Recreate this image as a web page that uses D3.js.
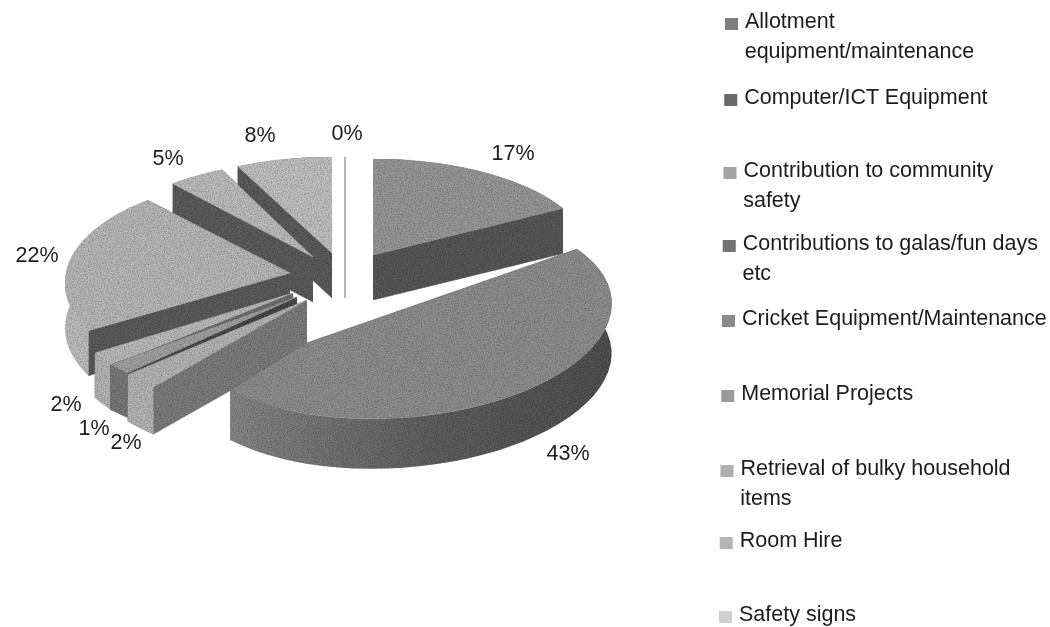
<!DOCTYPE html>
<html>
<head>
<meta charset="utf-8">
<script src="https://cdn.jsdelivr.net/npm/d3@7"></script>
<style>
  html, body { margin: 0; background: #fff; }
  text { font-family: "Liberation Sans", Arial, sans-serif; fill: #1c1c1c; }
</style>
</head>
<body>
<div class="mainDiv"></div>
<script>
const categories = ["Allotment equipment/maintenance", "Computer/ICT Equipment", "Contribution to community safety",
  "Contributions to galas/fun days etc", "Cricket Equipment/Maintenance", "Memorial Projects",
  "Retrieval of bulky household items", "Room Hire", "Safety signs"];
const values = [17, 43, 2, 1, 2, 22, 5, 8, 0];

// legend text broken the way the reference breaks it
const legendLines = [["Allotment", "equipment/maintenance"], ["Computer/ICT Equipment"], ["Contribution to community", "safety"],
  ["Contributions to galas/fun days", "etc"], ["Cricket Equipment/Maintenance"], ["Memorial Projects"],
  ["Retrieval of bulky household", "items"], ["Room Hire"], ["Safety signs"]];
const legendY = [28, 104, 177, 250, 325, 400, 475, 547, 621];
const legendColor = ["#7d7d7d", "#6b6b6b", "#a3a3a3", "#737373", "#8a8a8a", "#9a9a9a", "#b0b0b0", "#b4b4b4", "#cfcfcf"];

// the pie is a skewed perspective render, so each slice has its own ellipse and apex
// e = ellipse centre, a = apex, r = radii, t = ellipse angles the slice's pie angles map to
const sliceLayout = [
  { e: [373, 255], a: [373, 255], r: [217, 96],  t: [0, 61],      h: 45, tilt: 0, top: "#989898", side: "#585858", outer: "#585858" },
  { e: [396, 315], a: [307, 343], r: [216, 103], t: [59, 232],    h: 50, tilt: 4, top: "#8e8e8e", side: "#5c5c5c", outer: "url(#wall43)" },
  { e: [294, 308], a: [307, 300], r: [215, 105], t: [220.9, 230.6], h: 47, tilt: 0, top: "#b4b4b4", side: "#7c7c7c", outer: "#b4b4b4" },
  { e: [268.5, 293.5], a: [297, 297], r: [215, 105], t: [220.9, 227.2], h: 45, tilt: 0, top: "#a0a0a0", side: "#484848", outer: "#787878" },
  { e: [283, 302], a: [293, 293], r: [215, 105], t: [233, 241],   h: 45, tilt: 0, top: "#bababa", side: "#6e6e6e", outer: "#b4b4b4" },
  { e: [280, 283], a: [290, 273], r: [215, 105], t: [243, 322],   h: 45, tilt: 0, top: "#b8b8b8", side: "#5c5c5c", outer: "#bcbcbc" },
  { e: [313, 257], a: [313, 257], r: [217, 96],  t: [319.8, 335.2], h: 45, tilt: 0, top: "#bcbcbc", side: "#5c5c5c", outer: "#5c5c5c" },
  { e: [332, 253], a: [332, 253], r: [217, 96],  t: [334.3, 360], h: 45, tilt: 0, top: "#c0c0c0", side: "#5c5c5c", outer: "#5c5c5c" },
  { e: [345, 253], a: [345, 253], r: [217, 96],  t: [360, 360],   h: 45, tilt: 0, top: "#b5b5b5", side: "#b5b5b5", outer: "#b5b5b5" }
];
// back to front
const drawOrder = [0, 8, 7, 6, 5, 4, 3, 2, 1];

const labelPos = [[513, 153], [568, 453], [126, 442], [94, 428], [66, 404], [37, 255], [168, 158], [260, 135], [347, 133]];

const svg = d3.select(".mainDiv").append("svg")
  .attr("width", 1050).attr("height", 627)
  .style("display", "block");

const defs = svg.append("defs");
const grain = defs.append("filter").attr("id", "grain")
  .attr("x", 0).attr("y", 0).attr("width", 1).attr("height", 1);
grain.append("feTurbulence").attr("type", "fractalNoise").attr("baseFrequency", 0.7).attr("numOctaves", 2).attr("seed", 4).attr("result", "n");
grain.append("feColorMatrix").attr("in", "n").attr("type", "matrix")
  .attr("values", "0 0 0 0 0  0 0 0 0 0  0 0 0 0 0  0.9 0 0 0 -0.32").attr("result", "dots");
grain.append("feComposite").attr("in", "dots").attr("in2", "SourceGraphic").attr("operator", "in").attr("result", "clipped");
const merge = grain.append("feMerge");
merge.append("feMergeNode").attr("in", "SourceGraphic");
merge.append("feMergeNode").attr("in", "clipped");

defs.append("filter").attr("id", "soft").append("feGaussianBlur").attr("stdDeviation", 0.4);

const wall = defs.append("linearGradient").attr("id", "wall43");
wall.append("stop").attr("offset", "0%").attr("stop-color", "#868686");
wall.append("stop").attr("offset", "55%").attr("stop-color", "#5e5e5e");
wall.append("stop").attr("offset", "100%").attr("stop-color", "#505050");

const pie = d3.pie().sort(null).value(d => d);
const arcs = pie(values);
const line = d3.line();
const toRad = Math.PI / 180;

function ellipsePoint(l, tau) {
  const px = l.r[0] * Math.sin(tau * toRad);
  const py = -l.r[1] * Math.cos(tau * toRad);
  const c = Math.cos(l.tilt * toRad), s = Math.sin(l.tilt * toRad);
  return [l.e[0] + px * c + py * s, l.e[1] - px * s + py * c];
}

const pieView = svg.append("g").attr("class", "pie");

drawOrder.forEach(i => {
  const d = arcs[i], l = sliceLayout[i];
  const tau = d3.scaleLinear().domain([d.startAngle, d.endAngle]).range(l.t);
  const angles = d3.range(41).map(k => d.startAngle + (d.endAngle - d.startAngle) * k / 40);
  const rim = angles.map(a => ellipsePoint(l, tau(a)));
  const drop = p => [p[0], p[1] + l.h];
  const first = rim[0], last = rim[rim.length - 1];
  const g = pieView.append("g").attr("id", "slice" + i).attr("filter", values[i] > 0 ? "url(#grain)" : null);

  // cut walls first, then the outer wall, then the top face over them
  [first, last].forEach(p => {
    g.append("path")
      .attr("d", line([p, l.a, drop(l.a), drop(p)]) + "Z")
      .attr("fill", l.side).attr("stroke", l.side).attr("stroke-width", values[i] > 0 ? 0.5 : 2);
  });
  g.append("path")
    .attr("d", line(rim.concat(rim.map(drop).reverse())) + "Z")
    .attr("fill", l.outer);
  g.append("path")
    .attr("d", line([l.a].concat(rim)) + "Z")
    .attr("fill", l.top).attr("stroke", l.top).attr("stroke-width", values[i] > 0 ? 0.5 : 2);
});

const text = svg.append("g").attr("filter", "url(#soft)");

text.selectAll(".pct")
  .data(values)
  .join("text")
  .attr("class", "pct")
  .attr("x", (d, i) => labelPos[i][0])
  .attr("y", (d, i) => labelPos[i][1] + 7)
  .attr("text-anchor", "middle")
  .attr("font-size", 21.5)
  .text(d => d + "%");

// the scan is slightly skewed, legend drifts left going down
const legendX = d3.scaleLinear().domain([28, 621]).range([745, 739]);

const rows = text.selectAll(".row")
  .data(categories)
  .join("g")
  .attr("class", "row");

rows.append("rect")
  .attr("x", (d, i) => legendX(legendY[i]) - 20)
  .attr("y", (d, i) => legendY[i] - 10)
  .attr("width", 13).attr("height", 12)
  .attr("fill", (d, i) => legendColor[i]);

rows.selectAll("text")
  .data((d, i) => legendLines[i].map((t, k) => ({ t: t, y: legendY[i] + k * 30 })))
  .join("text")
  .attr("x", d => legendX(d.y))
  .attr("y", d => d.y)
  .attr("font-size", 21.5)
  .text(d => d.t);
</script>
</body>
</html>
